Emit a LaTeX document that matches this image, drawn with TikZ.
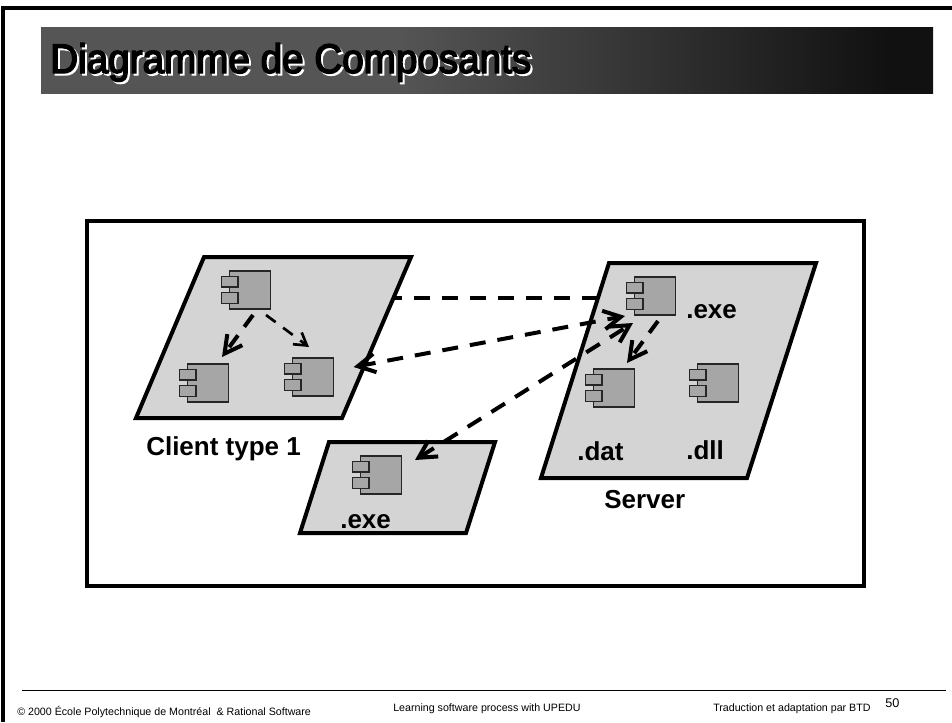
\documentclass[tikz,border=0pt]{standalone}
\usepackage{fontspec}
\setmainfont{Liberation Sans}
\newfontfamily\ttlfont[FakeStretch=0.935,FakeBold=3.5]{Liberation Sans}
\usetikzlibrary{arrows.meta,calc}
\definecolor{paraf}{HTML}{D4D4D4}
\definecolor{compf}{HTML}{A6A6A6}
\definecolor{bandl}{HTML}{555555}
\definecolor{bandr}{HTML}{111111}
\pgfdeclarehorizontalshading{bandshade}{100bp}{color(0bp)=(bandl); color(45bp)=(bandl); color(72.5bp)=(bandr); color(100bp)=(bandr)}
\tikzset{
  frameline/.style={line width=2.6pt,black},
  para/.style={draw=black,fill=paraf,line width=3pt,line join=miter},
  compbody/.style={draw=black!85,fill=compf,line width=.8pt,minimum width=31pt,minimum height=28.5pt,inner sep=0pt,outer sep=0pt},
  compport/.style={draw=black!85,fill=compf,line width=1pt,minimum width=12.5pt,minimum height=8pt,inner sep=0pt,outer sep=0pt},
  lbl/.style={font=\bfseries\fontsize{19.5}{22}\selectfont,inner sep=0pt,anchor=base west},
  foot/.style={font=\fontsize{8}{10}\selectfont,inner sep=0pt,anchor=base west},
  ttl/.style={font=\ttlfont\fontsize{31}{36}\selectfont,inner sep=0pt,anchor=base west},
  dashthick/.style={line width=3pt,dash pattern=on 11pt off 8pt,-{Straight Barb[length=13pt,width=14pt,line width=3pt]}},
  dashboth/.style={line width=3pt,dash pattern=on 12pt off 9pt,{Straight Barb[length=13pt,width=14pt,line width=3pt]}-{Straight Barb[length=13pt,width=14pt,line width=3pt]}},
  dashthin/.style={line width=2pt,dash pattern=on 9pt off 7pt,-{Straight Barb[length=9pt,width=11pt,line width=2pt]}},
  dashplain/.style={line width=3pt,dash pattern=on 12pt off 9pt,dash phase=5pt},
}
\newcommand{\comp}[3]{%
  \node[compbody] (#1) at (#2,#3) {};
  \node[compport] (#1p) at (#2-20.5,#3-8.5) {};
  \node[compport] (#1q) at (#2-20.5,#3+8) {};
}
\begin{document}
\begin{tikzpicture}[x=0.75pt,y=-0.75pt]
\useasboundingbox (0,0) rectangle (952,722);
\fill[white] (0,0) rectangle (952,722);
% frame
\draw[frameline] (3,722) -- (3,8) -- (952,8);
% title band
\shade[shading=bandshade] (41,27) rectangle (933,93);
\node[ttl,white] (titleb) at (52,75) {Diagramme de Composants};
\node[ttl,black] (title) at (50,73) {Diagramme de Composants};
% outer box
\draw[line width=3pt,fill=white] (87,221) rectangle (864,586);
% parallelograms
\draw[para] (204,257) -- (411,257) -- (342,418) -- (136,418) -- cycle;
\draw[para] (609,263) -- (816,263) -- (747,478) -- (541,478) -- cycle;
\draw[para] (329,442) -- (495,442) -- (466,533) -- (300,533) -- cycle;
% components
\comp{a}{250}{290}
\comp{b}{208}{383}
\comp{c}{313}{377}
\comp{d}{655}{296}
\comp{e}{614}{388}
\comp{f}{718}{383}
\comp{g}{381}{475}
% labels
\node[lbl] (l1) at (146,455) {Client type 1};
\node[lbl] (l2) at (686,318) {.exe};
\node[lbl] (l3) at (577,460) {.dat};
\node[lbl] (l4) at (686,459) {.dll};
\node[lbl] (l5) at (604,508) {Server};
\node[lbl] (l6) at (340,528) {.exe};
% connectors
\coordinate (cl) at (393,298);
\coordinate (sv) at (598,298);
\draw[dashplain] (cl) -- (sv);
\draw[dashboth] ([shift={(20,-10)}]c.east) -- ([shift={(-30,1)}]d.south);
\draw[dashboth] ([shift={(34,4)}]g.north) -- ([shift={(-22,8)}]d.south);
\draw[dashthick] ([shift={(3,6)}]d.south) -- ([shift={(13,-6)}]e.north);
\draw[dashthick] ([shift={(3,6)}]a.south) -- ([shift={(14,-7)}]b.north);
\draw[dashthin] ([shift={(16,6)}]a.south) -- ([shift={(-4,-11)}]c.north);
% footer
\draw[line width=.6pt] (22,690) -- (946,690);
\node[foot] (f1) at (17,715) {© 2000 École Polytechnique de Montréal \ \& Rational Software};
\node[foot] (f2) at (393,711) {Learning software process with UPEDU};
\node[foot] (f3) at (713,711) {Traduction et adaptation par BTD};
\node[inner sep=0pt,anchor=base west,font=\fontsize{9.5}{10}\selectfont] (f4) at (885,707) {50};
\end{tikzpicture}
\end{document}
